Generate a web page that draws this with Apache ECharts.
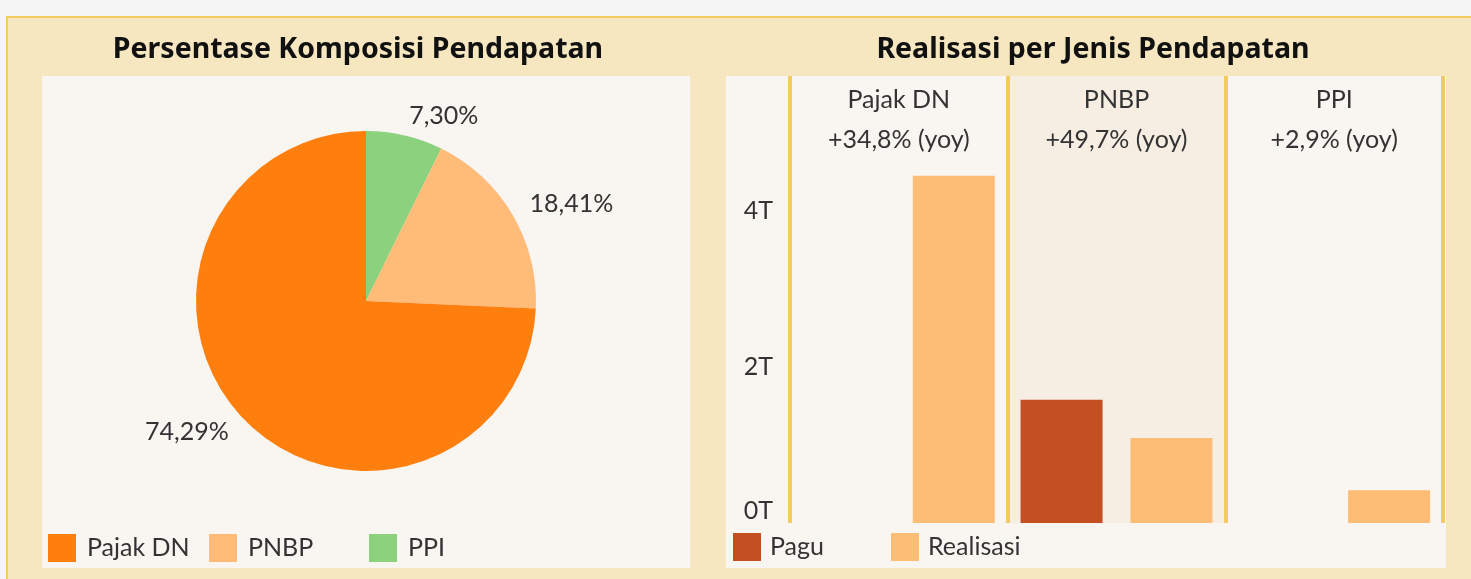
<!DOCTYPE html>
<html>
<head>
<meta charset="utf-8">
<title>Pendapatan</title>
<script src="https://cdn.jsdelivr.net/npm/echarts@6/dist/echarts.min.js"></script>
<style>
  html, body { margin: 0; padding: 0; background: #f5f5f5; }
  #chart { width: 1471px; height: 579px; }
</style>
</head>
<body>
<div id="chart"></div>
<script>
// komposisi pendapatan (%)
const pieNames = ['PPI', 'PNBP', 'Pajak DN']
const pieValues = [7.30, 18.41, 74.29]
const pieLegend = ['Pajak DN', 'PNBP', 'PPI']

// realisasi per jenis (triliun)
const jenis = ['Pajak DN', 'PNBP', 'PPI']
const yoy = ['+34,8%', '+49,7%', '+2,9%']
const pagu = [null, 1.58, null]
const realisasi = [4.45, 1.09, 0.42]
const barLegend = ['Pagu', 'Realisasi']
const yTicks = [0, 2, 4]

const font = 'Lato'
const textColor = '#333'
const yellow = '#f3cc5f'
const panelBg = '#f6e7c1'
const boxBg = '#f9f5f1'

const chart = echarts.init(document.getElementById('chart'))

const pieData = pieNames.map((name, i) => {
  return { name: name, value: pieValues[i] }
})
const pieColors = { 'PPI': '#8cd17d', 'PNBP': '#ffbb78', 'Pajak DN': '#ff7f0e' }

const titleStyle = { fontFamily: 'Noto Sans', fontWeight: 'bold', fontSize: 28.5, color: '#111' }

// one legend per item so the spacing is fixed like in tableau
function makeLegend(name, left, top, textPad) {
  return {
    data: [name],
    left: left, top: top,
    padding: 0,
    icon: 'rect', itemWidth: 28, itemHeight: 28,
    selectedMode: false,
    textStyle: { fontFamily: font, fontSize: 25, color: textColor, padding: [0, 0, 0, textPad] }
  }
}
const pieLegendLeft = [48, 209, 369]
const barLegendLeft = [733, 891]

const legends = []
pieLegend.forEach((name, i) => legends.push(makeLegend(name, pieLegendLeft[i], 534, 6)))
barLegend.forEach((name, i) => legends.push(makeLegend(name, barLegendLeft[i], 533, 4)))

const option = {
  animation: false,
  textStyle: { fontFamily: font },
  graphic: [
    // panel background + yellow frame
    { type: 'rect', z: -10, shape: { x: 6, y: 16, width: 1465, height: 563 }, style: { fill: yellow } },
    { type: 'rect', z: -9, shape: { x: 8, y: 18, width: 1463, height: 561 }, style: { fill: panelBg } },
    { type: 'rect', z: -8, shape: { x: 42, y: 76, width: 648, height: 492 }, style: { fill: boxBg } },
    { type: 'rect', z: -8, shape: { x: 726, y: 76, width: 720, height: 492 }, style: { fill: boxBg } }
  ],
  title: [{
    text: 'Persentase Komposisi Pendapatan',
    left: 358, top: 35, textAlign: 'center',
    padding: 0,
    textStyle: titleStyle
  }, {
    text: 'Realisasi per Jenis Pendapatan',
    left: 1093, top: 35, textAlign: 'center',
    padding: 0,
    textStyle: titleStyle
  }],
  legend: legends,
  grid: { left: 790, right: 28, top: 76, bottom: 56 },
  xAxis: {
    type: 'category',
    data: jenis,
    position: 'top',
    axisLine: { show: false },
    axisTick: { show: false },
    axisLabel: {
      inside: true,
      margin: 4,
      interval: 0,
      formatter: function (value, index) {
        return value + '\n' + yoy[index] + ' (yoy)'
      },
      fontFamily: font, fontSize: 25, lineHeight: 40, color: textColor
    },
    splitLine: { show: true, lineStyle: { color: yellow, width: 4 } },
    splitArea: { show: true, areaStyle: { color: [boxBg, '#f6eee3'] } }
  },
  yAxis: {
    type: 'value',
    min: 0, max: 5.73, interval: 2,
    axisLine: { show: false },
    axisTick: { show: false },
    splitLine: { show: false },
    axisLabel: {
      margin: 17,
      showMaxLabel: false,
      verticalAlignMinLabel: 'bottom',
      formatter: function (v) {
        return yTicks.indexOf(v) >= 0 ? v + 'T' : ''
      },
      fontFamily: font, fontSize: 25, color: textColor
    }
  },
  series: [{
    type: 'pie',
    center: [366, 301],
    radius: 170,
    startAngle: 90,
    clockwise: true,
    data: pieData,
    itemStyle: {
      color: function (p) { return pieColors[p.name] }
    },
    label: {
      show: true,
      position: 'outside',
      distanceToLabelLine: 0,
      formatter: function (p) {
        return p.value.toFixed(2).replace('.', ',') + '%'
      },
      fontFamily: font, fontSize: 25, color: textColor
    },
    labelLine: { show: false, length: 20, length2: 0 },
    emphasis: { disabled: true }
  }, {
    name: 'Pagu',
    type: 'bar',
    data: pagu,
    barWidth: 82,
    barGap: '34%',
    itemStyle: { color: '#c34f22' }
  }, {
    name: 'Realisasi',
    type: 'bar',
    data: realisasi,
    barWidth: 82,
    barGap: '34%',
    itemStyle: { color: '#fdbd76' }
  }]
}

chart.setOption(option)
</script>
</body>
</html>
